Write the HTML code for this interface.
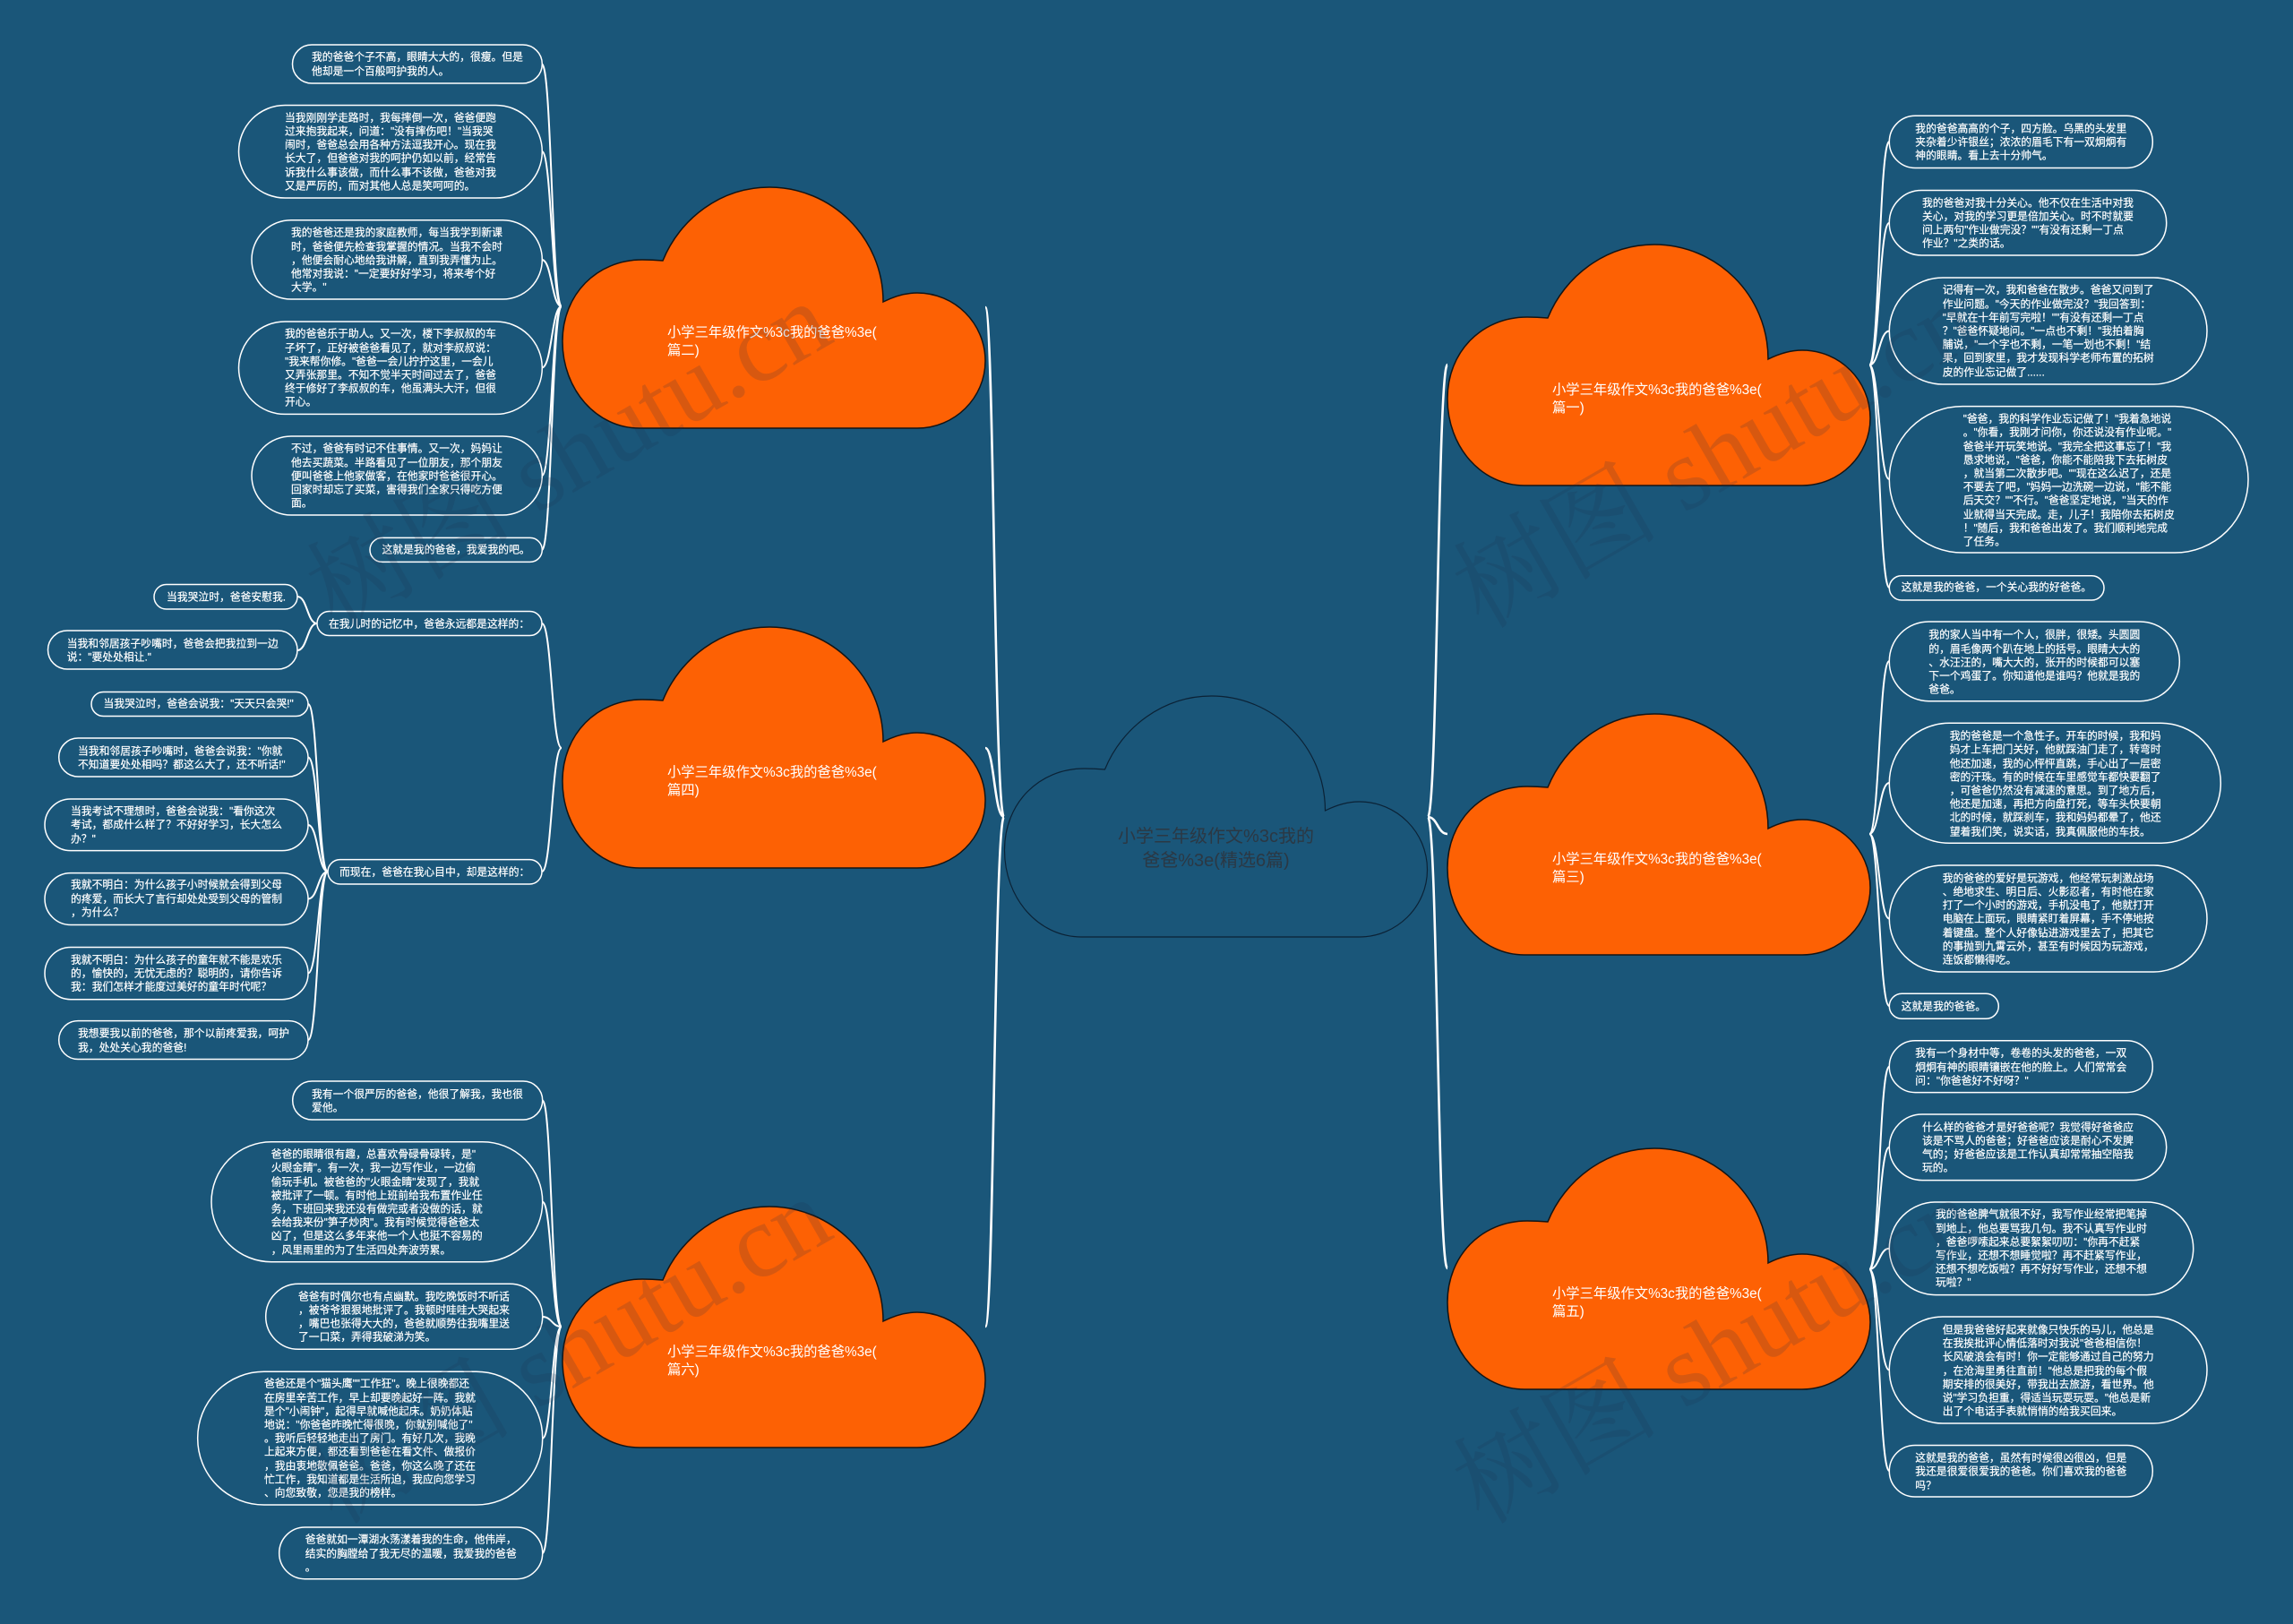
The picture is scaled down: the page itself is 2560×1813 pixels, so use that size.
<!DOCTYPE html>
<html lang="zh"><head><meta charset="utf-8"><title>小学三年级作文%3c我的爸爸%3e(精选6篇)</title>
<style>
html,body{margin:0;padding:0;background:#1a5679}
#p{position:relative;width:2560px;height:1813px;overflow:hidden;background:#1a5679;font-family:"Liberation Sans","Noto Sans CJK SC",sans-serif}
svg{position:absolute;left:0;top:0}
.t{position:absolute;color:#fff;font-size:11.8px;line-height:15.2px;white-space:pre;transform:translateY(.6px);-webkit-text-stroke:.2px #fff}
.c{position:absolute;color:#fff;font-size:15.3px;line-height:20px;white-space:pre}
.m{position:absolute;color:#2b3844;font-size:20px;line-height:27px;white-space:pre;text-align:center;left:1157.5px;width:400px;top:921px}
</style></head><body><div id="p">
<svg width="2560" height="1813" viewBox="0 0 2560 1813">
<defs><path id="cl" d="M86,269 C38,269 0,226 0,172 C0,120 38,81 89,81 Q100,81 112,82 C131,35 177,0 231,0 C300,0 358,56 358,128 C370,122 383,118 396,118 C438,118 472,152 472,194 C472,235 438,269 396,269 Z"/></defs>
<g fill="none" stroke="#fff" stroke-width="2">
<path d="M605,71.5C616,71.5 616,342 627,342M605,169C616,169 616,342 627,342M605,290C616,290 616,342 627,342M605,410.5C616,410.5 616,342 627,342M605,531C616,531 616,342 627,342M605,614C616,614 616,342 627,342"/>
<path d="M605,696C616,696 616,835 627,835M605,973C616,973 616,835 627,835"/>
<path d="M332,666C343,666 343,696 354,696M332,726C343,726 343,696 354,696"/>
<path d="M344,786C355,786 355,973 366,973M344,845.5C355,845.5 355,973 366,973M344,921C355,921 355,973 366,973M344,1003.5C355,1003.5 355,973 366,973M344,1086.5C355,1086.5 355,973 366,973M344,1161C355,1161 355,973 366,973"/>
<path d="M605.7,1228.5C616,1228.5 616,1481 627,1481M605.7,1341.7C616,1341.7 616,1481 627,1481M605.7,1470C616,1470 616,1481 627,1481M605.7,1605.6C616,1605.6 616,1481 627,1481M605.7,1734C616,1734 616,1481 627,1481"/>
<path d="M2109.3,158C2098,158 2098,407.5 2087,407.5M2109.3,248.7C2098,248.7 2098,407.5 2087,407.5M2109.3,369.5C2098,369.5 2098,407.5 2087,407.5M2109.3,535C2098,535 2098,407.5 2087,407.5M2109.3,656C2098,656 2098,407.5 2087,407.5"/>
<path d="M2109.3,738C2098,738 2098,931 2087,931M2109.3,874C2098,874 2098,931 2087,931M2109.3,1025.5C2098,1025.5 2098,931 2087,931M2109.3,1123C2098,1123 2098,931 2087,931"/>
<path d="M2109.3,1190.7C2098,1190.7 2098,1417 2087,1417M2109.3,1280.8C2098,1280.8 2098,1417 2087,1417M2109.3,1393.8C2098,1393.8 2098,1417 2087,1417M2109.3,1529.5C2098,1529.5 2098,1417 2087,1417M2109.3,1642C2098,1642 2098,1417 2087,1417"/>
<path stroke-width="2.6" d="M1121,912C1110,912 1110,343 1100,343M1121,912C1110,912 1110,835 1100,835M1121,912C1110,912 1110,1481 1100,1481M1594,912C1605,912 1605,407 1616,407M1594,912C1605,912 1605,931 1616,931M1594,912C1605,912 1605,1416 1616,1416"/>
</g>
<use href="#cl" x="1121.5" y="777" fill="#1a5679" stroke="#0b2236" stroke-width="1.2"/>
<g fill="#fd6104" stroke="#141414" stroke-width="1.5">
<use href="#cl" x="628" y="209"/><use href="#cl" x="628" y="700"/><use href="#cl" x="628" y="1347"/>
<use href="#cl" x="1616" y="273"/><use href="#cl" x="1616" y="797"/><use href="#cl" x="1616" y="1282"/>
</g>
<g fill="#1a5679" stroke="#fff" stroke-width="1.5">
<rect x="326.5" y="50" width="278.8" height="43" rx="21.5"/>
<rect x="266.5" y="117.5" width="338.8" height="103.5" rx="51.7"/>
<rect x="281" y="245.7" width="324.3" height="88.3" rx="44"/>
<rect x="266.5" y="359" width="338.8" height="103.4" rx="51.7"/>
<rect x="281" y="487" width="324.3" height="88" rx="44"/>
<rect x="413" y="600.4" width="192.3" height="27" rx="13.5"/>
<rect x="354" y="682.5" width="251" height="27" rx="13.5"/>
<rect x="366" y="959.6" width="239" height="27.4" rx="13.7"/>
<rect x="172" y="652.5" width="160" height="27.5" rx="13.7"/>
<rect x="53.5" y="704" width="278.5" height="43" rx="21.5"/>
<rect x="102" y="772.5" width="242" height="27" rx="13.5"/>
<rect x="65.7" y="824" width="278.3" height="43" rx="21.5"/>
<rect x="50" y="892" width="294" height="57.6" rx="28.8"/>
<rect x="50" y="974.6" width="294" height="57.9" rx="29"/>
<rect x="50" y="1057.5" width="294" height="58.2" rx="29"/>
<rect x="65.7" y="1139.6" width="278.3" height="42.9" rx="21.4"/>
<rect x="326.7" y="1207" width="279" height="43" rx="21.5"/>
<rect x="236" y="1274.7" width="369.7" height="134" rx="67"/>
<rect x="296.7" y="1433.3" width="309" height="73" rx="36.5"/>
<rect x="220.7" y="1531.3" width="385" height="148.7" rx="74"/>
<rect x="311.7" y="1705" width="294" height="57.7" rx="28.8"/>
<rect x="2109.3" y="129.3" width="294" height="58.2" rx="29"/>
<rect x="2109.3" y="212.5" width="309.4" height="72.5" rx="36"/>
<rect x="2109.3" y="310" width="354.7" height="119" rx="59.5"/>
<rect x="2109.3" y="453.6" width="400.7" height="163.4" rx="81.7"/>
<rect x="2109.3" y="642.7" width="239.7" height="27.3" rx="13.6"/>
<rect x="2109.3" y="694" width="324" height="88.7" rx="44"/>
<rect x="2109.3" y="807.3" width="370" height="134" rx="67"/>
<rect x="2109.3" y="966" width="354.7" height="119" rx="59.5"/>
<rect x="2109.3" y="1109.3" width="122" height="28" rx="14"/>
<rect x="2109.3" y="1161.8" width="294" height="57.8" rx="29"/>
<rect x="2109.3" y="1244" width="309.4" height="73.6" rx="36.8"/>
<rect x="2109.3" y="1342" width="339.4" height="103.6" rx="51.8"/>
<rect x="2109.3" y="1470" width="354.7" height="119" rx="59.5"/>
<rect x="2109.3" y="1613.5" width="294" height="57.5" rx="28.7"/>
</g>
</svg>
<div class="m">小学三年级作文%3c我的
爸爸%3e(精选6篇)</div>
<div class="c" style="left:745px;top:361.7px">小学三年级作文%3c我的爸爸%3e(
篇二)</div>
<div class="c" style="left:745px;top:852.7px">小学三年级作文%3c我的爸爸%3e(
篇四)</div>
<div class="c" style="left:745px;top:1499.7px">小学三年级作文%3c我的爸爸%3e(
篇六)</div>
<div class="c" style="left:1733px;top:425.7px">小学三年级作文%3c我的爸爸%3e(
篇一)</div>
<div class="c" style="left:1733px;top:949.7px">小学三年级作文%3c我的爸爸%3e(
篇三)</div>
<div class="c" style="left:1733px;top:1434.7px">小学三年级作文%3c我的爸爸%3e(
篇五)</div>

<div class="t" style="left:348px;top:56.4px">我的爸爸个子不高，眼睛大大的，很瘦。但是
他却是一个百般呵护我的人。</div>
<div class="t" style="left:318px;top:123.8px">当我刚刚学走路时，我每摔倒一次，爸爸便跑
过来抱我起来，问道："没有摔伤吧！"当我哭
闹时，爸爸总会用各种方法逗我开心。现在我
长大了，但爸爸对我的呵护仍如以前，经常告
诉我什么事该做，而什么事不该做，爸爸对我
又是严厉的，而对其他人总是笑呵呵的。</div>
<div class="t" style="left:325px;top:252.4px">我的爸爸还是我的家庭教师，每当我学到新课
时，爸爸便先检查我掌握的情况。当我不会时
，他便会耐心地给我讲解，直到我弄懂为止。
他常对我说："一定要好好学习，将来考个好
大学。"</div>
<div class="t" style="left:318px;top:365.4px">我的爸爸乐于助人。又一次，楼下李叔叔的车
子坏了，正好被爸爸看见了，就对李叔叔说：
"我来帮你修。"爸爸一会儿拧拧这里，一会儿
又弄张那里。不知不觉半天时间过去了，爸爸
终于修好了李叔叔的车，他虽满头大汗，但很
开心。</div>
<div class="t" style="left:325px;top:493.4px">不过，爸爸有时记不住事情。又一次，妈妈让
他去买蔬菜。半路看见了一位朋友，那个朋友
便叫爸爸上他家做客，在他家时爸爸很开心。
回家时却忘了买菜，害得我们全家只得吃方便
面。</div>
<div class="t" style="left:426.5px;top:606.4px">这就是我的爸爸，我爱我的吧。</div>
<div class="t" style="left:367px;top:689.2px">在我儿时的记忆中，爸爸永远都是这样的：</div>
<div class="t" style="left:379px;top:966.4px">而现在，爸爸在我心目中，却是这样的：</div>
<div class="t" style="left:186px;top:658.8px">当我哭泣时，爸爸安慰我.</div>
<div class="t" style="left:74.7px;top:711px">当我和邻居孩子吵嘴时，爸爸会把我拉到一边
说："要处处相让."</div>
<div class="t" style="left:115.5px;top:778.4px">当我哭泣时，爸爸会说我："天天只会哭!"</div>
<div class="t" style="left:87px;top:831px">当我和邻居孩子吵嘴时，爸爸会说我："你就
不知道要处处相吗？都这么大了，还不听话!"</div>
<div class="t" style="left:79px;top:898.1px">当我考试不理想时，爸爸会说我："看你这次
考试，都成什么样了？不好好学习，长大怎么
办？"</div>
<div class="t" style="left:79px;top:980.4px">我就不明白：为什么孩子小时候就会得到父母
的疼爱，而长大了言行却处处受到父母的管制
，为什么？</div>
<div class="t" style="left:79px;top:1063.8px">我就不明白：为什么孩子的童年就不能是欢乐
的，愉快的，无忧无虑的？聪明的，请你告诉
我：我们怎样才能度过美好的童年时代呢？</div>
<div class="t" style="left:87px;top:1146.4px">我想要我以前的爸爸，那个以前疼爱我，呵护
我，处处关心我的爸爸!</div>
<div class="t" style="left:348px;top:1214.1px">我有一个很严厉的爸爸，他很了解我，我也很
爱他。</div>
<div class="t" style="left:302.7px;top:1281.1px">爸爸的眼睛很有趣，总喜欢骨碌骨碌转，是"
火眼金睛"。有一次，我一边写作业，一边偷
偷玩手机。被爸爸的"火眼金睛"发现了，我就
被批评了一顿。有时他上班前给我布置作业任
务，下班回来我还没有做完或者没做的话，就
会给我来份"笋子炒肉"。我有时候觉得爸爸太
凶了，但是这么多年来他一个人也挺不容易的
，风里雨里的为了生活四处奔波劳累。</div>
<div class="t" style="left:333px;top:1439.7px">爸爸有时偶尔也有点幽默。我吃晚饭时不听话
，被爷爷狠狠地批评了。我顿时哇哇大哭起来
，嘴巴也张得大大的，爸爸就顺势往我嘴里送
了一口菜，弄得我破涕为笑。</div>
<div class="t" style="left:295px;top:1537.4px">爸爸还是个"猫头鹰""工作狂"。晚上很晚都还
在房里辛苦工作，早上却要晚起好一阵。我就
是个"小闹钟"，起得早就喊他起床。奶奶体贴
地说："你爸爸昨晚忙得很晚，你就别喊他了"
。我听后轻轻地走出了房门。有好几次，我晚
上起来方便，都还看到爸爸在看文件、做报价
，我由衷地敬佩爸爸。爸爸，你这么晚了还在
忙工作，我知道都是生活所迫，我应向您学习
、向您致敬，您是我的榜样。</div>
<div class="t" style="left:340.7px;top:1711.4px">爸爸就如一潭湖水荡漾着我的生命，他伟岸，
结实的胸膛给了我无尽的温暖，我爱我的爸爸
。</div>

<div class="t" style="left:2138.3px;top:135.9px">我的爸爸高高的个子，四方脸。乌黑的头发里
夹杂着少许银丝；浓浓的眉毛下有一双炯炯有
神的眼睛。看上去十分帅气。</div>
<div class="t" style="left:2146px;top:218.8px">我的爸爸对我十分关心。他不仅在生活中对我
关心，对我的学习更是倍加关心。时不时就要
问上两句"作业做完没？""有没有还剩一丁点
作业？"之类的话。</div>
<div class="t" style="left:2168.7px;top:316.4px">记得有一次，我和爸爸在散步。爸爸又问到了
作业问题。"今天的作业做完没？"我回答到：
"早就在十年前写完啦！""有没有还剩一丁点
？"爸爸怀疑地问。"一点也不剩！"我拍着胸
脯说，"一个字也不剩，一笔一划也不剩！"结
果，回到家里，我才发现科学老师布置的拓树
皮的作业忘记做了......</div>
<div class="t" style="left:2191.7px;top:460.2px">"爸爸，我的科学作业忘记做了！"我着急地说
。"你看，我刚才问你，你还说没有作业呢。"
爸爸半开玩笑地说。"我完全把这事忘了！"我
恳求地说，"爸爸，你能不能陪我下去拓树皮
，就当第二次散步吧。""现在这么迟了，还是
不要去了吧，"妈妈一边洗碗一边说，"能不能
后天交？""不行。"爸爸坚定地说，"当天的作
业就得当天完成。走，儿子！我陪你去拓树皮
！"随后，我和爸爸出发了。我们顺利地完成
了任务。</div>
<div class="t" style="left:2122.7px;top:648.4px">这就是我的爸爸，一个关心我的好爸爸。</div>
<div class="t" style="left:2153.3px;top:701.4px">我的家人当中有一个人，很胖，很矮。头圆圆
的，眉毛像两个趴在地上的括号。眼睛大大的
、水汪汪的，嘴大大的，张开的时候都可以塞
下一个鸡蛋了。你知道他是谁吗？他就是我的
爸爸。</div>
<div class="t" style="left:2176.7px;top:814.1px">我的爸爸是一个急性子。开车的时候，我和妈
妈才上车把门关好，他就踩油门走了，转弯时
他还加速，我的心怦怦直跳，手心出了一层密
密的汗珠。有的时候在车里感觉车都快要翻了
，可爸爸仍然没有减速的意思。到了地方后，
他还是加速，再把方向盘打死，等车头快要朝
北的时候，就踩刹车，我和妈妈都晕了，他还
望着我们笑，说实话，我真佩服他的车技。</div>
<div class="t" style="left:2168.7px;top:972.7px">我的爸爸的爱好是玩游戏，他经常玩刺激战场
、绝地求生、明日后、火影忍者，有时他在家
打了一个小时的游戏，手机没电了，他就打开
电脑在上面玩，眼睛紧盯着屏幕，手不停地按
着键盘。整个人好像钻进游戏里去了，把其它
的事抛到九霄云外，甚至有时候因为玩游戏，
连饭都懒得吃。</div>
<div class="t" style="left:2122.7px;top:1115.7px">这就是我的爸爸。</div>
<div class="t" style="left:2138.3px;top:1168.4px">我有一个身材中等，卷卷的头发的爸爸，一双
炯炯有神的眼睛镶嵌在他的脸上。人们常常会
问："你爸爸好不好呀？"</div>
<div class="t" style="left:2146px;top:1250.8px">什么样的爸爸才是好爸爸呢？我觉得好爸爸应
该是不骂人的爸爸；好爸爸应该是耐心不发脾
气的；好爸爸应该是工作认真却常常抽空陪我
玩的。</div>
<div class="t" style="left:2161px;top:1348.4px">我的爸爸脾气就很不好，我写作业经常把笔掉
到地上，他总要骂我几句。我不认真写作业时
，爸爸啰嗦起来总要絮絮叨叨："你再不赶紧
写作业，还想不想睡觉啦？再不赶紧写作业，
还想不想吃饭啦？再不好好写作业，还想不想
玩啦？"</div>
<div class="t" style="left:2168.7px;top:1476.9px">但是我爸爸好起来就像只快乐的马儿，他总是
在我挨批评心情低落时对我说"爸爸相信你！
长风破浪会有时！你一定能够通过自己的努力
，在沧海里勇往直前！"他总是把我的每个假
期安排的很美好，带我出去旅游，看世界。他
说"学习负担重，得适当玩耍玩耍。"他总是新
出了个电话手表就悄悄的给我买回来。</div>
<div class="t" style="left:2138.3px;top:1620.1px">这就是我的爸爸，虽然有时候很凶很凶，但是
我还是很爱很爱我的爸爸。你们喜欢我的爸爸
吗？</div>

<svg width="2560" height="1813" viewBox="0 0 2560 1813" style="pointer-events:none">
<g font-family="'Liberation Serif','Noto Serif CJK SC',serif" font-size="115" fill="#1e3250" fill-opacity="0.17">
<text transform="translate(375,703) rotate(-30)">树图 shutu.cn</text>
<text transform="translate(1655,703) rotate(-30)">树图 shutu.cn</text>
<text transform="translate(375,1703) rotate(-30)">树图 shutu.cn</text>
<text transform="translate(1655,1703) rotate(-30)">树图 shutu.cn</text>
</g>
</svg>
</div></body></html>
